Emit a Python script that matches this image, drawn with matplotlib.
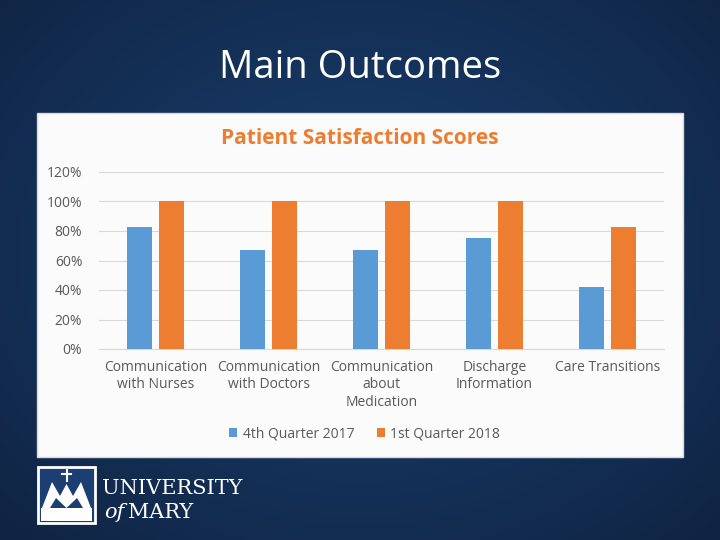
import numpy as np
import matplotlib
matplotlib.use('Agg')
import matplotlib.pyplot as plt
from matplotlib.patches import Rectangle, Polygon
from matplotlib.ticker import PercentFormatter

# chart data
categories = ['Communication\nwith Nurses', 'Communication\nwith Doctors',
              'Communication\nabout\nMedication', 'Discharge\nInformation',
              'Care Transitions']
q4_2017 = [83, 67, 67, 75, 42]
q1_2018 = [100, 100, 100, 100, 83]
series_names = ['4th Quarter 2017', '1st Quarter 2018']
yticks = [0, 20, 40, 60, 80, 100, 120]

blue = '#5b9bd5'
orange = '#ed7d31'
grey_txt = '#595959'

fig = plt.figure(figsize=(7.2, 5.4), dpi=100)

# slide background: radial blue gradient
bg = fig.add_axes([0, 0, 1, 1])
yy, xx = np.mgrid[0:540, 0:720]
r = np.sqrt(((xx - 360) / 520) ** 2 + ((yy - 250) / 420) ** 2)
r = np.clip(r, 0, 1)
c_in = np.array([0x1a, 0x40, 0x70]) / 255
c_out = np.array([0x0f, 0x23, 0x42]) / 255
img = c_in[None, None, :] * (1 - r[..., None]) + c_out[None, None, :] * r[..., None]
bg.imshow(img, extent=[0, 720, 540, 0], aspect='auto')
bg.set_xlim(0, 720)
bg.set_ylim(540, 0)
bg.axis('off')

# slide title
bg.text(360, 68, 'Main Outcomes', color='white', fontsize=27.5,
        family='Open Sans', ha='center', va='center')

# white chart panel
bg.add_patch(Rectangle((37, 113), 646, 344, facecolor='#fbfbfc',
                       edgecolor='#d9d9d9', lw=1))
bg.text(360, 139, 'Patient Satisfaction Scores', color=orange, fontsize=15,
        family='Open Sans', weight='bold', ha='center', va='center')

# logo
bg.add_patch(Rectangle((38, 467), 57, 56, facecolor='#1c3f73',
                       edgecolor='white', lw=2))
bg.add_patch(Rectangle((41, 508), 51, 13, facecolor='white', lw=0))
m_shape = [(42, 508), (52, 482), (60, 496), (66.5, 484), (73, 496),
           (81, 482), (91, 508), (83, 508), (77, 498), (66.5, 508),
           (56, 498), (50, 508)]
bg.add_patch(Polygon(m_shape, closed=True, facecolor='white', lw=0))
bg.plot([66.5, 66.5], [470, 481], color='white', lw=1.5)
bg.plot([62, 71], [474, 474], color='white', lw=1.5)
bg.text(102, 489, 'UNIVERSITY', color='white', fontsize=15,
        family='DejaVu Serif', ha='left', va='center')
bg.text(104, 513, 'of', color='white', fontsize=15, style='italic',
        family='DejaVu Serif', ha='left', va='center')
bg.text(128, 513, 'MARY', color='white', fontsize=15,
        family='DejaVu Serif', ha='left', va='center')

# bar chart
ax = fig.add_axes([99 / 720, 1 - 349 / 540, 565 / 720, 177 / 540])
ax.set_facecolor('none')
x = np.arange(len(categories))
w = 0.22
ax.bar(x - 0.14, q4_2017, w, color=blue, label=series_names[0], zorder=3)
ax.bar(x + 0.14, q1_2018, w, color=orange, label=series_names[1], zorder=3)

ax.set_xlim(-0.5, len(categories) - 0.5)
ax.set_ylim(0, 120)
ax.set_yticks(yticks)
ax.yaxis.set_major_formatter(PercentFormatter(decimals=0))
ax.grid(axis='y', color='#d9d9d9', lw=0.8, zorder=0)
for s in ax.spines.values():
    s.set_visible(False)
ax.spines['bottom'].set_visible(True)
ax.spines['bottom'].set_color('#d9d9d9')
ax.tick_params(length=0, colors=grey_txt, labelsize=10)
ax.tick_params(axis='y', pad=12)
ax.set_xticks(x)
ax.set_xticklabels(categories, family='Open Sans', linespacing=1.2)
for lab in ax.get_yticklabels():
    lab.set_family('Open Sans')
ax.tick_params(axis='x', pad=8)

leg = ax.legend(loc='center', bbox_to_anchor=(0.47, -0.48), ncol=2,
                frameon=False, handlelength=0.6, handleheight=0.6,
                columnspacing=1.6, handletextpad=0.4,
                prop={'family': 'Open Sans', 'size': 10})
for t in leg.get_texts():
    t.set_color(grey_txt)

fig.savefig('out.png', dpi=100)
